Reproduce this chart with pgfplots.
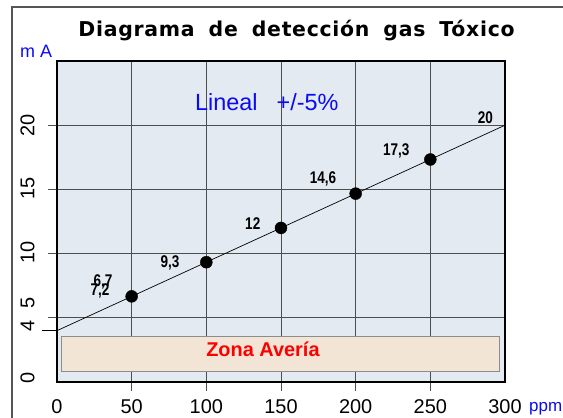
\documentclass[border=0pt]{standalone}
\usepackage{fontspec}
\setmainfont{Liberation Sans}
\newfontfamily\titlefont[LetterSpace=3.5]{DejaVu Sans}
\newfontfamily\narrowfont[FakeStretch=0.8]{Liberation Sans}
\usepackage{pgfplots}
\pgfplotsset{compat=1.18}
\definecolor{bgcol}{HTML}{E4EAF2}
\definecolor{boxfill}{HTML}{F2E5D5}
\definecolor{boxline}{HTML}{8C8C8C}
\definecolor{gridcol}{HTML}{4D4D4D}
\definecolor{framecol}{HTML}{555555}
\definecolor{myblue}{HTML}{0A0AF5}
\newcommand\lbl{\narrowfont\fontsize{17}{17}\selectfont\bfseries}
\begin{document}
\begin{tikzpicture}
\path[use as bounding box] (0,0) rectangle (563bp,-418bp);
\clip (0,0) rectangle (563bp,-418bp);
\begin{axis}[
  at={(57bp,-382bp)}, anchor=south west,
  scale only axis, width=448bp, height=321bp,
  xmin=0, xmax=300, ymin=0, ymax=25,
  axis background/.style={fill=bgcol},
  axis line style={black, line width=1.3bp},
  xtick pos=left, ytick pos=left,
  xtick={50,100,150,200,250}, ytick={5,10,15,20},
  extra x ticks={0,300}, extra x tick style={grid=none, tick style={draw=none}},
  extra y ticks={4}, extra y tick style={grid=none, major tick length=15bp, tick style={black, line width=0.7bp}},
  yticklabels={}, extra y tick labels={},
  grid=major, grid style={gridcol, line width=0.9bp},
  tick align=outside, major tick length=9bp,
  tick style={gridcol, line width=0.9bp},
  /pgf/number format/assume math mode=true,
  xticklabel style={font=\fontsize{20}{20}\selectfont, anchor=north, yshift=-5bp},
]
\draw[boxline, fill=boxfill, line width=1bp] (axis cs:3.3,0.78) rectangle (axis cs:296,3.58);
\node[anchor=base, text=red, font=\fontsize{20}{20}\selectfont\bfseries] at (axis cs:137.9,1.95) {Zona Avería};
\addplot[black, line width=0.7bp] coordinates {(0,4) (300,20)};
\addplot[only marks, mark=*, mark size=6bp, black] coordinates {(50,6.67) (100,9.33) (150,12) (200,14.67) (250,17.33)};
\node[font=\lbl] at (axis cs:75.7,9.24) {9,3};
\node[font=\lbl] at (axis cs:131.1,12.36) {12};
\node[font=\lbl] at (axis cs:178.1,15.79) {14,6};
\node[font=\lbl] at (axis cs:227.2,17.98) {17,3};
\node[font=\lbl] at (axis cs:286.8,20.60) {20};
\node[font=\lbl] at (axis cs:30.8,7.79) {6,7};
\node[font=\lbl] at (axis cs:28.8,7.09) {7,2};
\node[anchor=base west, text=myblue, font=\fontsize{23.5}{23.5}\selectfont, inner sep=0pt] at (axis cs:92.4,21.18) {Lineal\hspace{19bp}+/-5\%};
\end{axis}
\draw[framecol, line width=2bp] (12bp,-418bp) -- (12bp,-6.5bp) -- (563bp,-6.5bp);
\node[anchor=base, font=\titlefont\fontsize{20.5}{20.5}\selectfont\bfseries, inner sep=0pt] at (296.5bp,-36.7bp) {Diagrama\hspace{14bp}de\hspace{14bp}detección\hspace{14bp}gas\hspace{14bp}Tóxico};
\node[anchor=base west, text=myblue, font=\fontsize{18}{18}\selectfont, inner sep=0pt] at (20bp,-57.5bp) {m A};
\node[anchor=base west, text=myblue, font=\fontsize{17}{17}\selectfont, inner sep=0pt] at (529bp,-411bp) {ppm};
\foreach \v/\p in {20/125, 15/188, 10/252, 5/303, 4/326, 0/378}{
  \node[rotate=90, font=\fontsize{20}{20}\selectfont, inner sep=0pt] at (27.5bp,-\p bp) {\v};
}
\end{tikzpicture}
\end{document}
